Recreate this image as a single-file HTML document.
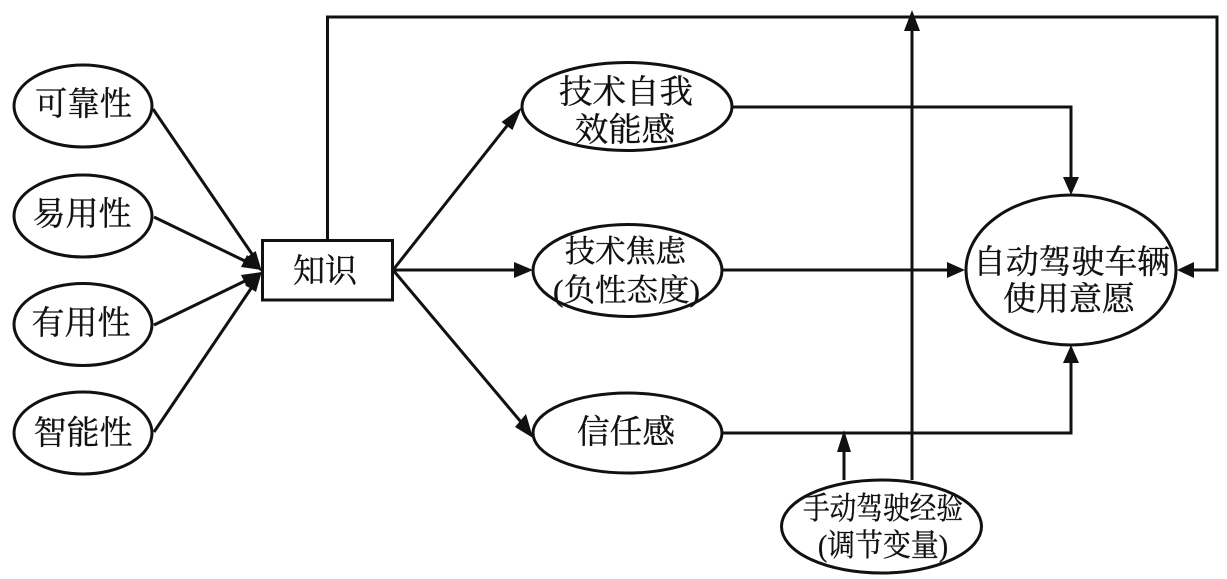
<!DOCTYPE html>
<html><head><meta charset="utf-8"><style>
html,body{margin:0;padding:0;background:#fff}
svg{display:block}
text{font-family:"Liberation Serif","Noto Serif CJK SC",serif;font-size:33px;fill:#111;stroke:#111;stroke-width:.35;text-anchor:middle}
</style></head><body>
<svg width="1227" height="579" viewBox="0 0 1227 579" xmlns="http://www.w3.org/2000/svg">
<g fill="none" stroke="#111" stroke-width="3">
<path d="M153 109L252 254M154 217L247 262M154 325L247 280M154 432L252 287"/>
<path d="M393 270L510 122M393 270L520 270M393 270L521 422"/>
<path d="M327.500 241V17H1217V270H1190"/>
<path d="M732 107H1071V180M722 270H950M722 433H1071V360"/>
<path d="M912 480V28M844 480V448"/>
</g>
<g fill="#fff" stroke="#111" stroke-width="3">
<ellipse cx="83" cy="106" rx="69" ry="41"/>
<ellipse cx="83" cy="216" rx="69" ry="41"/>
<ellipse cx="83" cy="324.500" rx="69" ry="41"/>
<ellipse cx="83" cy="433" rx="69" ry="41"/>
<ellipse cx="627" cy="106.500" rx="105" ry="44"/>
<ellipse cx="627.500" cy="270.500" rx="94.500" ry="46"/>
<ellipse cx="627.500" cy="433" rx="94.500" ry="40"/>
<ellipse cx="1071" cy="270" rx="105" ry="75"/>
<ellipse cx="881.500" cy="526.500" rx="100" ry="46.500"/>
<rect x="262.500" y="240.500" width="130" height="59.500"/>
</g>
<g fill="#111">
<path d="M262 272L255.700 251L244.300 259Z"/>
<path d="M262 270L247 255L241 267Z"/>
<path d="M262 272L241 275L247 287Z"/>
<path d="M262 271L256 292L245 285Z"/>
<path d="M522 107L512.500 130L501.500 122Z"/>
<path d="M533 270L514 262V278Z"/>
<path d="M533 438L526 414L515 427Z"/>
<path d="M1071 195L1063 177H1079Z"/>
<path d="M965 270L947 262V278Z"/>
<path d="M1071 345L1063 363H1079Z"/>
<path d="M1177 270L1194 262V278Z"/>
<path d="M912 10L904 31H920Z"/>
<path d="M844 430L837 452H851Z"/>
</g>
<text x="83.500" y="115" textLength="97" lengthAdjust="spacingAndGlyphs">可靠性</text>
<text x="82" y="225" textLength="99" lengthAdjust="spacingAndGlyphs">易用性</text>
<text x="81" y="334" textLength="99" lengthAdjust="spacingAndGlyphs">有用性</text>
<text x="83" y="444" textLength="99" lengthAdjust="spacingAndGlyphs">智能性</text>
<text x="325" y="282" textLength="64" lengthAdjust="spacingAndGlyphs">知识</text>
<text x="626" y="103" textLength="134" lengthAdjust="spacingAndGlyphs">技术自我</text>
<text x="625" y="141" textLength="100" lengthAdjust="spacingAndGlyphs">效能感</text>
<text x="625.500" y="262" style="font-size:31px" textLength="121" lengthAdjust="spacingAndGlyphs">技术焦虑</text>
<text x="626.500" y="301" style="font-size:31px" textLength="147" lengthAdjust="spacingAndGlyphs">(负性态度)</text>
<text x="626" y="443" textLength="98" lengthAdjust="spacingAndGlyphs">信任感</text>
<text x="1071.500" y="273" textLength="197" lengthAdjust="spacingAndGlyphs">自动驾驶车辆</text>
<text x="1069" y="310" textLength="132" lengthAdjust="spacingAndGlyphs">使用意愿</text>
<text x="883" y="519" style="font-size:31px" textLength="160" lengthAdjust="spacingAndGlyphs">手动驾驶经验</text>
<text x="883" y="556" style="font-size:31px" textLength="130" lengthAdjust="spacingAndGlyphs">(调节变量)</text>
</svg>
</body></html>
